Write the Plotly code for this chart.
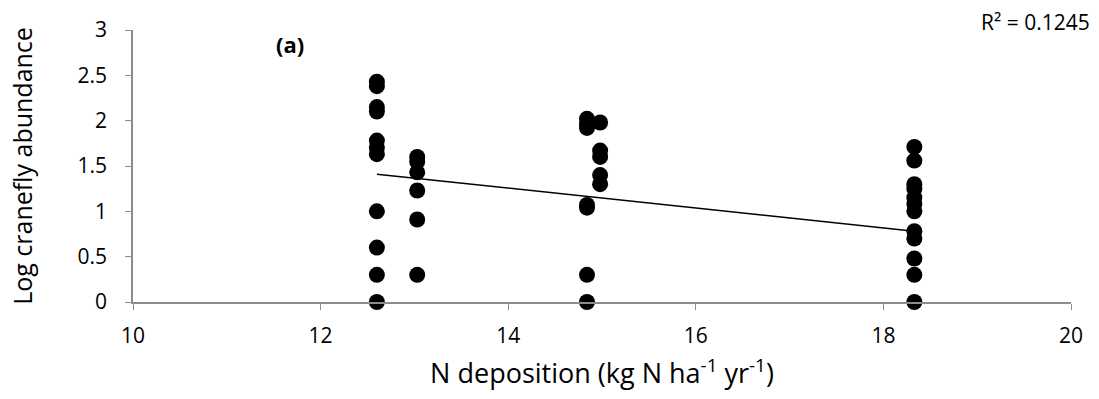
import plotly.graph_objects as go

# N deposition site values and log-transformed cranefly counts per site
n_dep_1 = 12.6
abund_1 = [2.43, 2.38, 2.15, 2.1, 1.78, 1.7, 1.63, 1.0, 0.6, 0.3, 0.0]
n_dep_2 = 13.03
abund_2 = [1.6, 1.55, 1.43, 1.23, 0.91, 0.3]
n_dep_3 = 14.84
abund_3 = [2.02, 1.97, 1.92, 1.07, 1.04, 0.3, 0.0]
n_dep_4 = 14.98
abund_4 = [1.98, 1.67, 1.6, 1.4, 1.3]
n_dep_5 = 18.33
abund_5 = [1.71, 1.56, 1.3, 1.25, 1.15, 1.08, 1.0, 0.78, 0.7, 0.48, 0.3, 0.0]

# Linear trend line end points
trend_x = [12.6, 18.33]
trend_y = [1.41, 0.78]
r_squared = "0.1245"

x_ticks = [10, 12, 14, 16, 18, 20]
y_ticks = [0, 0.5, 1, 1.5, 2, 2.5, 3]

xs, ys = [], []
for xv, vals in [(n_dep_1, abund_1), (n_dep_2, abund_2), (n_dep_3, abund_3),
                 (n_dep_4, abund_4), (n_dep_5, abund_5)]:
    xs += [xv] * len(vals)
    ys += vals

font_family = "Open Sans, Lato, sans-serif"
axis_grey = "#8c8c8c"

fig = go.Figure()
fig.add_trace(go.Scatter(x=xs, y=ys, mode="markers",
                         marker=dict(size=16, color="black"),
                         showlegend=False, cliponaxis=False))
fig.add_trace(go.Scatter(x=trend_x, y=trend_y, mode="lines",
                         line=dict(color="black", width=1.5),
                         showlegend=False))

fig.update_layout(
    width=1099, height=399,
    margin=dict(l=133, r=28, t=30, b=97),
    paper_bgcolor="white", plot_bgcolor="white",
    font=dict(family=font_family, color="black"),
    xaxis=dict(range=[10, 20], tickvals=x_ticks, ticks="outside", ticklen=6,
               tickcolor=axis_grey, showline=True, linecolor=axis_grey,
               linewidth=1.5, showgrid=False, zeroline=False,
               tickfont=dict(size=21), ticklabelstandoff=8,
               title=dict(text="N deposition (kg N ha<sup>-1</sup> yr<sup>-1</sup>)",
                          font=dict(size=27), standoff=16)),
    yaxis=dict(range=[0, 3], tickvals=y_ticks, ticks="outside", ticklen=6,
               tickcolor=axis_grey, showline=True, linecolor=axis_grey,
               linewidth=1.5, showgrid=False, zeroline=False,
               tickfont=dict(size=21), ticklabelstandoff=14,
               title=dict(text="Log cranefly abundance", font=dict(size=25),
                          standoff=38)),
    annotations=[
        dict(text="<b>(a)</b>", x=0.167, y=0.948, xref="paper", yref="paper",
             showarrow=False, font=dict(size=22), xanchor="center", yanchor="middle"),
        dict(text="R² = " + r_squared, x=1.022, y=1.031, xref="paper", yref="paper",
             showarrow=False, font=dict(size=21), xanchor="right", yanchor="middle"),
    ],
)

fig.write_html("out.html")
